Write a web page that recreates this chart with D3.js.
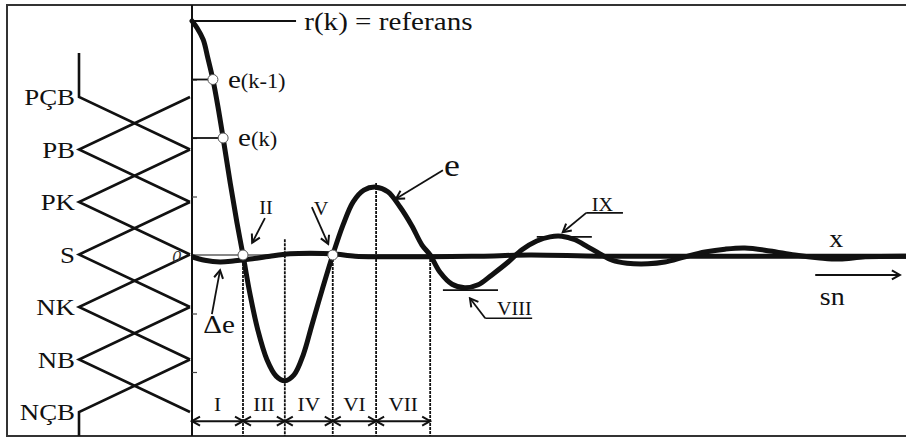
<!DOCTYPE html>
<html>
<head>
<meta charset="utf-8">
<script src="https://cdn.jsdelivr.net/npm/d3@7"></script>
<style>
  body { margin: 0; background: #fff; }
  svg { display: block; }
</style>
</head>
<body>
<div id="wrapper"></div>
<script>
// fuzzy sets on the left (label + level)
const setLabels = ["PÇB", "PB", "PK", "S", "NK", "NB", "NÇB"];
const setLevels = [3, 2, 1, 0, -1, -2, -3];

// error e over time
const eTimes = [0, 0.1, 0.22, 0.31, 0.41, 0.51, 0.61, 0.75, 0.88, 1.0, 1.14, 1.29, 1.47, 1.65, 1.82, 2.0, 2.18, 2.35, 2.55, 2.76, 2.96, 3.16, 3.37, 3.61, 3.84, 4.08, 4.31, 4.51, 4.67, 4.86, 5.1, 5.35, 5.61, 5.88, 6.2, 6.47, 6.76, 7.02, 7.25, 7.51, 7.76, 8.0, 8.24, 8.53, 8.94, 9.27, 9.67, 10.06, 10.45, 10.84, 11.33, 11.82, 12.31, 12.7, 13.2, 14];
const eValues = [4.0, 3.88, 3.68, 3.37, 3.0, 2.53, 2.0, 1.23, 0.56, 0, -0.68, -1.28, -1.79, -2.07, -2.15, -2.05, -1.71, -1.2, -0.6, 0, 0.51, 0.91, 1.11, 1.16, 1.08, 0.82, 0.5, 0.17, 0, -0.29, -0.5, -0.56, -0.51, -0.34, -0.12, 0.09, 0.24, 0.31, 0.32, 0.26, 0.14, 0.02, -0.09, -0.14, -0.15, -0.12, -0.03, 0.05, 0.1, 0.12, 0.07, 0.0, -0.05, -0.07, -0.03, -0.02];

// change of error (delta e / x)
const deTimes = [0, 0.25, 0.55, 0.84, 1.14, 1.53, 1.92, 2.31, 2.76, 3.2, 3.69, 4.67, 5.65, 6.63, 8, 9.96, 11.92, 14];
const deValues = [-0.03, -0.09, -0.12, -0.1, -0.07, -0.02, 0.02, 0.03, 0.02, -0.02, -0.03, -0.03, -0.02, 0, -0.02, -0.02, -0.02, -0.02];

// sample points e(k-1), e(k) and the zero crossings II, V
const sampleTimes = [0.41, 0.61, 1.0, 2.76];
const sampleValues = [3, 2, 0, 0];

// zones along the bottom
const zoneBounds = [0, 1, 1.82, 2.76, 3.61, 4.67];
const zoneTops = [null, 0, 0.27, 0, 1.23, 0];
const zoneLabels = ["I", "III", "IV", "VI", "VII"];

const refValue = 4;
const axisTicks = [3, 2, 1, -1, -2];

const width = 906;
const height = 439;
const frame = { left: 7, top: 5, bottom: 436 };
const serif = "'Liberation Serif', 'Times New Roman', Times, serif";

const svg = d3.select("#wrapper").append("svg")
  .attr("width", width)
  .attr("height", height)
  .attr("font-family", serif);

svg.append("rect").attr("width", width).attr("height", height).attr("fill", "#fff");

const xScale = d3.scaleLinear().domain([0, 14]).range([192, 906]);
const eScale = d3.scaleLinear().domain([0, 4]).range([255, 21]);
const lvlScale = d3.scaleLinear().domain([-3, 3]).range([412, 97]);
const muScale = d3.scaleLinear().domain([0, 1]).range([190, 79]);

const defs = svg.append("defs");
defs.append("marker")
  .attr("id", "head")
  .attr("viewBox", "-10 -6 12 12")
  .attr("refX", 0).attr("refY", 0)
  .attr("markerWidth", 12).attr("markerHeight", 12)
  .attr("markerUnits", "userSpaceOnUse")
  .attr("orient", "auto-start-reverse")
  .append("path")
  .attr("d", "M-8,-4.5L0,0L-8,4.5")
  .attr("fill", "none")
  .attr("stroke", "#111")
  .attr("stroke-width", 2);

// frame
svg.append("rect")
  .attr("x", frame.left).attr("y", frame.top)
  .attr("width", width).attr("height", frame.bottom - frame.top)
  .attr("fill", "none").attr("stroke", "#333").attr("stroke-width", 2);

function addText(x, y, txt, size, anchor = "start") {
  return svg.append("text")
    .attr("transform", `translate(${x},${y}) scale(1.12,1)`)
    .attr("font-family", serif)
    .attr("font-size", size)
    .attr("fill", "#111")
    .attr("text-anchor", anchor)
    .text(txt);
}

function arrow(t1, e1, t2, e2, w = 1.8) {
  svg.append("line")
    .attr("x1", xScale(t1)).attr("y1", eScale(e1))
    .attr("x2", xScale(t2)).attr("y2", eScale(e2))
    .attr("stroke", "#111").attr("stroke-width", w)
    .attr("marker-end", "url(#head)");
}

function hline(t1, t2, e, w = 1.8) {
  svg.append("line")
    .attr("x1", xScale(t1)).attr("x2", xScale(t2))
    .attr("y1", eScale(e)).attr("y2", eScale(e))
    .attr("stroke", "#111").attr("stroke-width", w);
}

// membership triangles
const lineMF = d3.line().x(d => muScale(d[0])).y(d => lvlScale(d[1]));
setLevels.forEach((L, i) => {
  let pts;
  if (L === 3) pts = [[1, 3.84], [1, 3], [0, 2]];
  else if (L === -3) pts = [[1, -3.45], [1, -3], [0, -2]];
  else pts = [[0, L + 1], [1, L], [0, L - 1]];
  svg.append("path")
    .attr("d", lineMF(pts))
    .attr("fill", "none").attr("stroke", "#111").attr("stroke-width", 2.6)
    .attr("stroke-linejoin", "miter");
  addText(muScale(1) - 4, lvlScale(L) + 8, setLabels[i], 24, "end");
});

// vertical axis and ticks
svg.append("line")
  .attr("x1", xScale(0)).attr("x2", xScale(0))
  .attr("y1", frame.top).attr("y2", frame.bottom)
  .attr("stroke", "#111").attr("stroke-width", 2);

const yAxis = svg.append("g")
  .attr("transform", `translate(${xScale(0)},0)`)
  .call(d3.axisRight(eScale).tickValues(axisTicks).tickSize(5).tickFormat(""));
yAxis.select(".domain").remove();
yAxis.selectAll(".tick line").attr("stroke", "#444").attr("stroke-width", 1.2);

// thin zero line
hline(0, 14, 0, 1.2);

// reference line
hline(0, 2.04, refValue, 2);
addText(xScale(2.2), eScale(3.85), "r(k) = referans", 26);

// zone dotted verticals
zoneBounds.forEach((b, i) => {
  if (zoneTops[i] === null) return;
  svg.append("line")
    .attr("x1", xScale(b)).attr("x2", xScale(b))
    .attr("y1", eScale(zoneTops[i])).attr("y2", frame.bottom)
    .attr("stroke", "#111").attr("stroke-width", 1.8)
    .attr("stroke-dasharray", "3,1");
});

// zone arrows and labels
zoneLabels.forEach((lab, i) => {
  const a = zoneBounds[i], b = zoneBounds[i + 1];
  svg.append("line")
    .attr("x1", xScale(a)).attr("x2", xScale(b))
    .attr("y1", eScale(-2.84)).attr("y2", eScale(-2.84))
    .attr("stroke", "#111").attr("stroke-width", 2)
    .attr("marker-start", "url(#head)")
    .attr("marker-end", "url(#head)");
  addText(xScale((a + b) / 2), eScale(-2.67), lab, 19, "middle");
});

// curves
const curveLine = d3.line()
  .x(d => xScale(d[0]))
  .y(d => eScale(d[1]))
  .curve(d3.curveCatmullRom.alpha(0.5));

svg.append("path")
  .attr("d", curveLine(deTimes.map((t, i) => [t, deValues[i]])))
  .attr("fill", "none").attr("stroke", "#111").attr("stroke-width", 5);

svg.append("path")
  .attr("d", curveLine(eTimes.map((t, i) => [t, eValues[i]])))
  .attr("fill", "none").attr("stroke", "#111").attr("stroke-width", 5)
  .attr("stroke-linecap", "round");

// e(k-1), e(k) guides
sampleTimes.slice(0, 2).forEach((t, i) => hline(0, t, sampleValues[i], 1.8));

svg.selectAll(".sample")
  .data(sampleTimes.map((t, i) => [t, sampleValues[i]]))
  .join("circle")
  .attr("class", "sample")
  .attr("cx", d => xScale(d[0]))
  .attr("cy", d => eScale(d[1]))
  .attr("r", 5)
  .attr("fill", "#fff").attr("stroke", "#555").attr("stroke-width", 1);

function eLabel(x, y, sub) {
  const t = svg.append("text")
    .attr("transform", `translate(${x},${y}) scale(1.12,1)`)
    .attr("font-family", serif)
    .attr("fill", "#111");
  t.append("tspan").attr("font-size", 26).text("e");
  t.append("tspan").attr("font-size", 20).text(sub);
}
eLabel(xScale(sampleTimes[0]) + 15, eScale(sampleValues[0]) + 8, "(k-1)");
eLabel(xScale(sampleTimes[1]) + 15, eScale(sampleValues[1]) + 8, "(k)");

// annotations
addText(xScale(1.45), eScale(0.70), "II", 18, "middle");
arrow(1.43, 0.63, 1.18, 0.21);
addText(xScale(2.53), eScale(0.68), "V", 18, "middle");
arrow(2.35, 0.82, 2.67, 0.19);

addText(xScale(0.22), eScale(-1.33), "Δe", 26);
arrow(0.39, -1.01, 0.55, -0.26);

addText(xScale(4.94), eScale(1.35), "e", 32);
arrow(4.92, 1.45, 4.0, 0.96);

hline(6.76, 7.84, 0.31, 1.8);
addText(xScale(7.84), eScale(0.75), "IX", 18);
hline(7.73, 8.45, 0.72, 1.6);
arrow(7.73, 0.72, 7.27, 0.39);

hline(4.92, 6.0, -0.6, 1.8);
addText(xScale(5.98), eScale(-1.03), "VIII", 18);
hline(5.75, 6.67, -1.08, 1.6);
arrow(5.75, -1.08, 5.45, -0.74);

addText(xScale(12.63), eScale(0.14), "x", 25, "middle");
arrow(12.22, -0.34, 13.88, -0.34, 2);
addText(xScale(12.31), eScale(-0.85), "sn", 25);

addText(xScale(-0.3), eScale(-0.12), "0", 16, "middle")
  .attr("font-style", "italic").attr("fill", "#333");
</script>
</body>
</html>
